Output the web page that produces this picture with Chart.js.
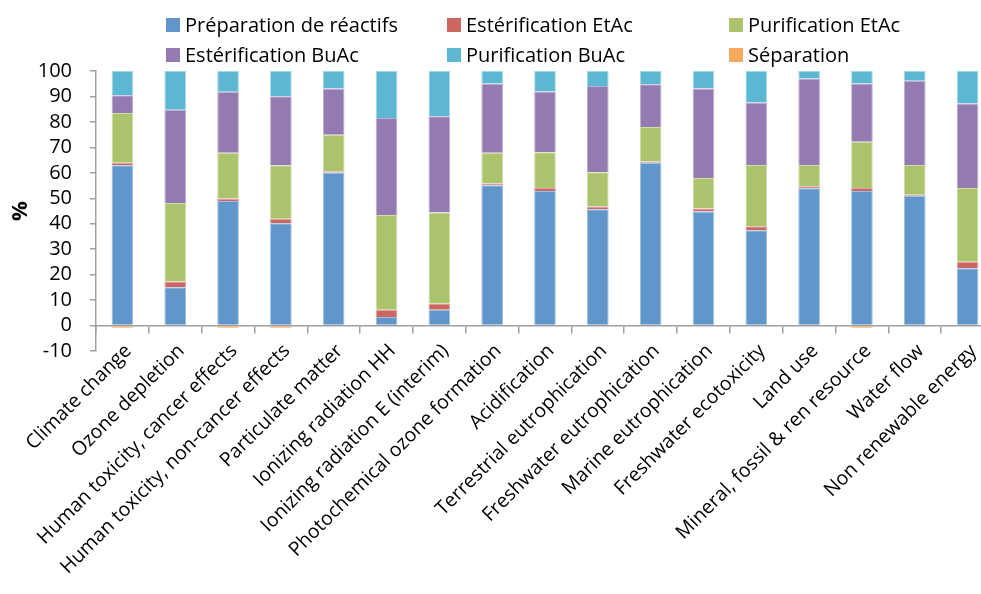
<!DOCTYPE html>
<html>
<head>
<meta charset="utf-8">
<script src="https://cdn.jsdelivr.net/npm/chart.js@4/dist/chart.umd.min.js"></script>
<style>
  html, body { margin: 0; padding: 0; background: #fff; overflow: hidden; }
  #wrap { position: relative; width: 1000px; height: 594px; }
  #legend { position: absolute; left: 0; top: 0; width: 1000px; height: 70px; font-family: "Open Sans", sans-serif; font-size: 20px; color: #000; }
  .li { position: absolute; white-space: nowrap; line-height: 24px; }
  .li span.box { position: absolute; left: 0; top: 5px; width: 14px; height: 14px; }
  .li span.txt { position: absolute; left: 19px; top: 0; }
</style>
</head>
<body>
<div id="wrap">
  <canvas id="c" width="1000" height="594"></canvas>
  <div id="legend"></div>
</div>
<script>
const categories = [
  "Climate change", "Ozone depletion", "Human toxicity, cancer effects",
  "Human toxicity, non-cancer effects", "Particulate matter", "Ionizing radiation HH",
  "Ionizing radiation E (interim)", "Photochemical ozone formation", "Acidification",
  "Terrestrial eutrophication", "Freshwater eutrophication", "Marine eutrophication",
  "Freshwater ecotoxicity", "Land use", "Mineral, fossil & ren resource",
  "Water flow", "Non renewable energy"
];
const seriesNames = [
  "Préparation de réactifs", "Estérification EtAc", "Purification EtAc",
  "Estérification BuAc", "Purification BuAc", "Séparation"
];
const preparationReactifs = [63.0, 15.0, 48.9, 40.2, 60.1, 3.4, 6.2, 55.1, 52.9, 45.7, 64.0, 44.8, 37.4, 53.9, 52.9, 51.0, 22.5];
const esterificationEtAc  = [1.0, 2.3, 1.0, 1.8, 0.5, 2.8, 2.5, 0.7, 1.1, 1.1, 0.4, 1.2, 1.6, 0.8, 1.1, 0.4, 2.6];
const purificationEtAc    = [19.5, 30.8, 18.0, 21.0, 14.4, 37.2, 35.7, 12.1, 14.1, 13.4, 13.6, 12.0, 24.1, 8.4, 18.2, 11.7, 28.9];
const esterificationBuAc  = [7.0, 36.7, 23.9, 27.1, 18.1, 38.1, 37.8, 27.2, 23.8, 33.9, 16.8, 35.1, 24.5, 34.0, 22.9, 33.1, 33.2];
const purificationBuAc    = [9.5, 15.2, 8.2, 9.9, 6.9, 18.5, 17.8, 4.9, 8.1, 5.9, 5.2, 6.9, 12.4, 2.9, 4.9, 3.8, 12.8];
const separation          = [-1.0, -0.3, -1.0, -1.0, -0.3, 0, 0, -0.3, -0.3, -0.3, 0, -0.3, 0, 0, -1.0, 0, 0];
const yTicks = [-10, 0, 10, 20, 30, 40, 50, 60, 70, 80, 90, 100];

const colors = ["#6096CA", "#CC6661", "#ABC36C", "#937AB0", "#5CB7D2", "#F8A85A"];
const borders = ["#9cc0e2", "#e3a19e", "#cfdea6", "#bfaed3", "#a3d8e8", "#fbcd9e"];
const seriesData = [preparationReactifs, esterificationEtAc, purificationEtAc, esterificationBuAc, purificationBuAc, separation];

const datasets = seriesNames.map((name, i) => ({
  label: name,
  data: seriesData[i],
  backgroundColor: colors[i],
  borderColor: borders[i],
  borderWidth: 1,
  barPercentage: 0.41,
  categoryPercentage: 1.0,
  stack: "s"
}));

const AXIS = "#a0a0a0";
const FONT = "'Open Sans', sans-serif";

const chart = new Chart(document.getElementById("c"), {
  type: "bar",
  data: { labels: categories, datasets },
  options: {
    responsive: false,
    animation: false,
    devicePixelRatio: 1,
    layout: { padding: { left: 0, right: 6, top: 71, bottom: 243 } },
    plugins: { legend: { display: false }, tooltip: { enabled: false } },
    scales: {
      x: {
        stacked: true,
        position: { y: 0 },
        grid: { display: true, drawOnChartArea: false, drawTicks: true, tickLength: 7, offset: true, color: AXIS, lineWidth: 1.5 },
        border: { display: true, color: AXIS, width: 1.5 },
        ticks: { autoSkip: false, maxRotation: 45, minRotation: 45, padding: 7, labelOffset: 6, color: "#000", font: { family: FONT, size: 19.5 } }
      },
      y: {
        stacked: true,
        min: -10, max: 100,
        afterBuildTicks: (s) => { s.ticks = yTicks.map(v => ({ value: v })); },
        afterFit: (s) => { s.width = 96; },
        grid: { display: true, drawOnChartArea: false, drawTicks: true, tickLength: 6, color: AXIS, lineWidth: 1.5 },
        border: { display: true, color: AXIS, width: 1.5 },
        ticks: { autoSkip: false, padding: 18, color: "#000", font: { family: FONT, size: 20 } },
        title: { display: true, text: "%", color: "#000", padding: { top: 8, bottom: 0 }, font: { family: FONT, size: 22, weight: "bold" } }
      }
    }
  }
});

// HTML legend built from the chart's datasets (3 columns x 2 rows)
const legendPos = [[166, 13], [447, 13], [729, 13], [166, 43], [447, 43], [729, 43]];
const legend = document.getElementById("legend");
chart.data.datasets.forEach((ds, i) => {
  const d = document.createElement("div");
  d.className = "li";
  d.style.left = legendPos[i][0] + "px";
  d.style.top = legendPos[i][1] + "px";
  d.innerHTML = '<span class="box" style="background:' + ds.backgroundColor + '"></span><span class="txt"></span>';
  d.querySelector(".txt").textContent = ds.label;
  legend.appendChild(d);
});
</script>
</body>
</html>
